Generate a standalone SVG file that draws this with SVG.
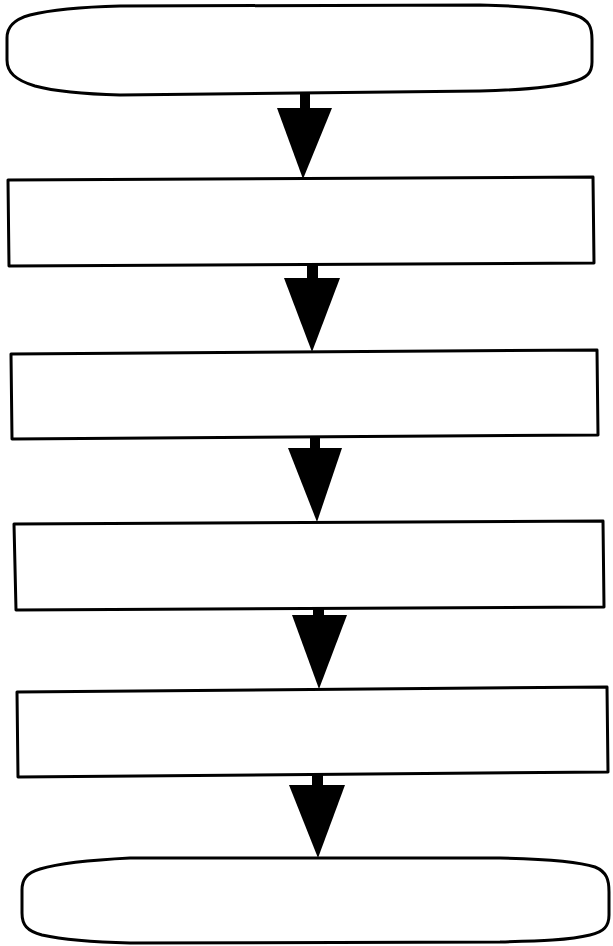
<svg xmlns="http://www.w3.org/2000/svg" width="613" height="946" viewBox="0 0 613 946">
<style>
.node{fill:#fff;stroke:#000;stroke-width:3;stroke-linejoin:round}
.arrow{fill:#000;stroke:none}
</style>
<rect width="613" height="946" fill="#fff"/>
<g id="start">
<path class="node" d="M120,6 L480,5 C530,6 560,10 575,15 C590,20 592,28 592,40 L592,62 C592,72 588,78 572,82 C555,87 520,90 480,91 L120,95 C80,94 50,90 35,86 C15,80 7,72 7,60 L7,38 C7,28 12,20 30,15 C50,10 80,7 120,6 Z"/>
</g>
<g id="step1"><polygon class="node" points="8,180 593,177 594,263 9,266"/></g>
<g id="step2"><polygon class="node" points="11,354 597,350 598,435 12,439"/></g>
<g id="step3"><polygon class="node" points="14,524 603,521 604,607 16,610"/></g>
<g id="step4"><polygon class="node" points="17,692 607,687 608,772 18,777"/></g>
<g id="end">
<path class="node" d="M130,858 L500,858 C550,859 580,862 595,867 C607,872 609,880 609,892 L609,915 C609,926 604,932 590,935 C570,940 540,941 500,942 L130,943 C90,942 60,939 42,935 C27,931 22,925 22,913 L22,890 C22,880 26,873 40,869 C60,863 90,860 130,858 Z"/>
</g>
<g id="connectors">
<rect class="arrow" x="300" y="93" width="10" height="16"/>
<polygon class="arrow" points="277,108 332,108 303,179"/>
<rect class="arrow" x="307" y="263" width="11" height="16"/>
<polygon class="arrow" points="284,278 340,278 312,352"/>
<rect class="arrow" x="310" y="436" width="10" height="13"/>
<polygon class="arrow" points="288,448 342,448 317,522"/>
<rect class="arrow" x="313" y="607" width="11" height="9"/>
<polygon class="arrow" points="292,615 347,615 319,689"/>
<rect class="arrow" x="312" y="773" width="11" height="13"/>
<polygon class="arrow" points="289,785 345,785 318,858"/>
</g>
</svg>
